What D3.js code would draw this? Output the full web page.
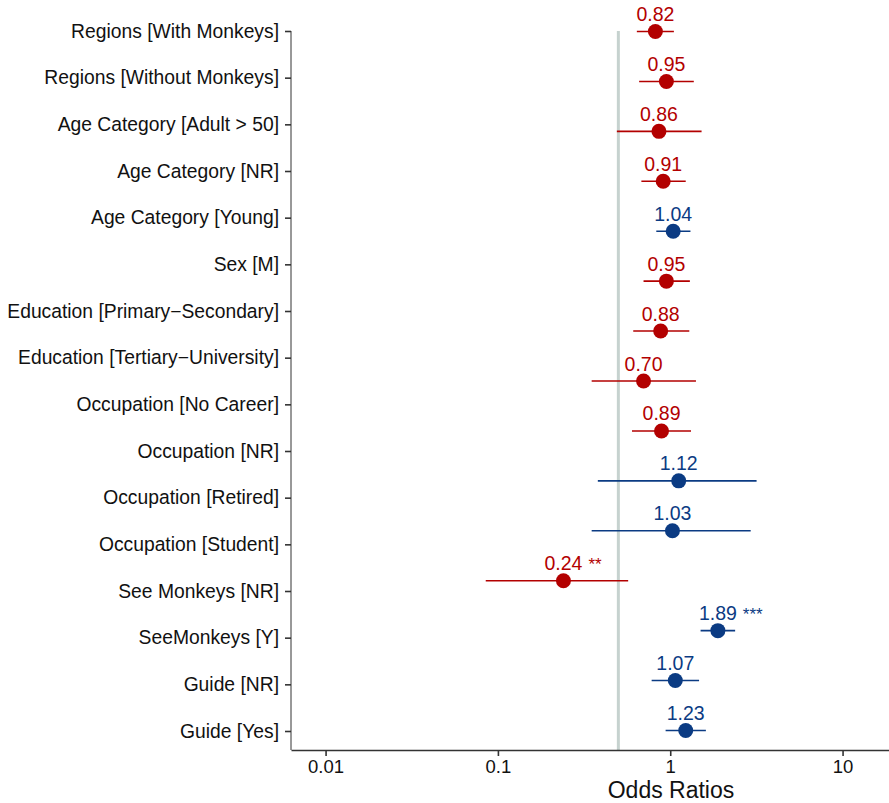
<!DOCTYPE html>
<html>
<head>
<meta charset="utf-8">
<script src="https://cdn.jsdelivr.net/npm/d3@7"></script>
<style>
  body { margin: 0; background: #fff; }
  svg { display: block; font-family: "Liberation Sans", Arial, Helvetica, sans-serif; }
</style>
</head>
<body>
<div id="forest"></div>
<script>
// row labels (y axis)
var labels = [
    "Regions [With Monkeys]",
    "Regions [Without Monkeys]",
    "Age Category [Adult > 50]",
    "Age Category [NR]",
    "Age Category [Young]",
    "Sex [M]",
    "Education [Primary\u2212Secondary]",
    "Education [Tertiary\u2212University]",
    "Occupation [No Career]",
    "Occupation [NR]",
    "Occupation [Retired]",
    "Occupation [Student]",
    "See Monkeys [NR]",
    "SeeMonkeys [Y]",
    "Guide [NR]",
    "Guide [Yes]"
]

// odds ratios + confidence intervals (15 estimates in the figure)
var estimates = [0.82, 0.95, 0.86, 0.91, 1.04, 0.95, 0.88, 0.70, 0.89, 1.12, 1.03, 0.24, 1.89, 1.07, 1.23]
var lower     = [0.64, 0.66, 0.49, 0.68, 0.83, 0.70, 0.61, 0.35, 0.60, 0.38, 0.35, 0.085, 1.50, 0.78, 0.94]
var upper     = [1.05, 1.37, 1.52, 1.23, 1.31, 1.30, 1.29, 1.41, 1.32, 3.17, 2.93, 0.57, 2.38, 1.47, 1.61]
var stars     = ["", "", "", "", "", "", "", "", "", "", "", "**", "***", "", ""]

var tickValues = [0.01, 0.1, 1, 10]
var tickLabels = ["0.01", "0.1", "1", "10"]
var refLine = 0.5

var width = 889, height = 803

var svg = d3.select("#forest")
    .append("svg")
    .attr("width", width)
    .attr("height", height)

var red = "#b30000", blue = "#0b3b83"

// x scale (log), the axis runs past the right edge of the picture
var x = d3.scaleLog()
    .domain([0.0063, 162])
    .range([291, 1051])

var plotTop = 31, plotBottom = 750

// labels and estimates are spread over the same band
var yLab = d3.scalePoint()
    .domain(labels)
    .range([31, 731])

var yEst = d3.scalePoint()
    .domain(d3.range(estimates.length))
    .range([31.5, 730.5])

var data = estimates.map(function(d, i) {
    return {i: i, est: d, lo: lower[i], hi: upper[i], stars: stars[i]}
})

// reference line
svg.append("line")
    .attr("x1", x(refLine))
    .attr("x2", x(refLine))
    .attr("y1", plotTop)
    .attr("y2", plotBottom)
    .attr("stroke", "#c6d2cf")
    .attr("stroke-width", 3)

// X axis
var xAxis = svg.append("g")
    .attr("transform", "translate(0," + plotBottom + ")")
    .call(d3.axisBottom(x)
        .tickValues(tickValues)
        .tickFormat(function(d, i) { return tickLabels[i] })
        .tickSize(6)
        .tickSizeOuter(0)
        .tickPadding(4))
xAxis.selectAll("text").style("font-size", "18.5px").attr("fill", "#111")

// X axis label
svg.append("text")
    .attr("text-anchor", "middle")
    .attr("x", (x.range()[0] + x.range()[1]) / 2)
    .attr("y", 798)
    .style("font-size", "23px")
    .attr("fill", "#111")
    .text("Odds Ratios")

// Y axis
var yAxis = svg.append("g")
    .attr("transform", "translate(291,0)")
    .call(d3.axisLeft(yLab).tickSize(6).tickPadding(6))
yAxis.select(".domain").remove()
yAxis.selectAll("text").style("font-size", "19.3px").attr("fill", "#111")

svg.append("line")
    .attr("x1", 291).attr("x2", 291)
    .attr("y1", plotTop).attr("y2", plotBottom)
    .attr("stroke", "#333")

svg.selectAll(".domain, .tick line").attr("stroke", "#333").attr("stroke-width", 1.6)

function colour(d) { return d.est > 1 ? blue : red }

// confidence intervals
svg.selectAll("ci")
    .data(data)
    .enter()
    .append("line")
        .attr("x1", function(d) { return x(d.lo) })
        .attr("x2", function(d) { return x(d.hi) })
        .attr("y1", function(d) { return yEst(d.i) })
        .attr("y2", function(d) { return yEst(d.i) })
        .attr("stroke", colour)
        .attr("stroke-width", 1.6)

// points
svg.selectAll("pt")
    .data(data)
    .enter()
    .append("circle")
        .attr("cx", function(d) { return x(d.est) })
        .attr("cy", function(d) { return yEst(d.i) })
        .attr("r", 7.5)
        .attr("fill", colour)

// value labels
var vals = svg.selectAll("val")
    .data(data)
    .enter()
    .append("text")
        .attr("x", function(d) { return x(d.est) })
        .attr("y", function(d) { return yEst(d.i) - 10.5 })
        .attr("text-anchor", "middle")
        .style("font-size", "19.5px")
        .attr("fill", colour)
        .text(function(d) { return d.est.toFixed(2) })

// significance stars after the number
vals.each(function(d) {
    if (!d.stars) return
    var w = this.getComputedTextLength()
    svg.append("text")
        .attr("x", x(d.est) + w / 2 + 6)
        .attr("y", yEst(d.i) - 10.5)
        .style("font-size", "17px")
        .attr("fill", colour(d))
        .text(d.stars)
})
</script>
</body>
</html>
